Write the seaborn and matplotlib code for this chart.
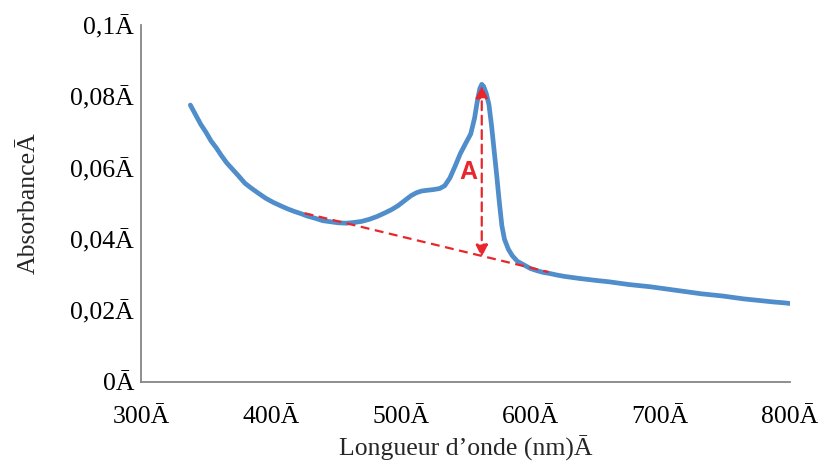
import matplotlib
matplotlib.use("Agg")
import matplotlib.pyplot as plt
import seaborn as sns
import pandas as pd

# Spectre d'absorbance
longueur_onde = [338, 342, 346, 350, 354, 358, 362, 366, 370, 375,
                 380, 385, 390, 396, 402, 408, 413, 418, 423, 428,
                 434, 440, 446, 452, 458, 464, 470, 476, 482, 488,
                 493, 498, 503, 508, 512, 516, 520, 525, 530, 534,
                 538, 542, 546, 550, 554, 557, 559, 561, 562.5, 564,
                 566, 568, 570, 572, 574, 576, 578, 580, 583, 586,
                 590, 595, 600, 605, 610, 615, 620, 626, 632, 638,
                 645, 652, 660, 668, 676, 684, 692, 700, 708, 716,
                 724, 732, 740, 748, 756, 764, 772, 780, 788, 795,
                 800]
absorbance = [0.0776, 0.0749, 0.0722, 0.0700, 0.0675, 0.0656, 0.0634, 0.0614, 0.0598, 0.0578,
              0.0557, 0.0543, 0.0530, 0.0515, 0.0503, 0.0493, 0.0485, 0.0478, 0.0472, 0.0465,
              0.0459, 0.0452, 0.0449, 0.0446, 0.0445, 0.0447, 0.0450, 0.0456, 0.0464, 0.0474,
              0.0483, 0.0494, 0.0508, 0.0522, 0.0530, 0.0535, 0.0537, 0.0539, 0.0542, 0.0550,
              0.0572, 0.0605, 0.0640, 0.0668, 0.0695, 0.0740, 0.0785, 0.0822, 0.0834, 0.0828,
              0.0808, 0.0778, 0.0720, 0.0650, 0.0580, 0.0505, 0.0438, 0.0400, 0.0372, 0.0354,
              0.0338, 0.0328, 0.0318, 0.0312, 0.0307, 0.0304, 0.0300, 0.0296, 0.0293, 0.0290,
              0.0287, 0.0284, 0.0281, 0.0277, 0.0273, 0.0270, 0.0267, 0.0263, 0.0259, 0.0255,
              0.0251, 0.0247, 0.0244, 0.0241, 0.0237, 0.0233, 0.0230, 0.0227, 0.0224, 0.0222,
              0.0220]

# Ligne de base et flèche de l'absorbance A
base_x = [426, 614]
base_y = [0.0473, 0.0308]
pic_x = 562.5
pic_haut = 0.0830
pic_bas = 0.0350

x_ticks = [300, 400, 500, 600, 700, 800]
x_labels = ["300Ā", "400Ā", "500Ā", "600Ā", "700Ā", "800Ā"]
y_ticks = [0, 0.02, 0.04, 0.06, 0.08, 0.1]
y_labels = ["0Ā", "0,02Ā", "0,04Ā", "0,06Ā", "0,08Ā", "0,1Ā"]

sns.set_style("white")
plt.rcParams["font.family"] = ["Liberation Serif", "DejaVu Serif"]

df = pd.DataFrame({"lambda": longueur_onde, "abs": absorbance})

fig = plt.figure(figsize=(8.36, 4.65), dpi=100)
ax = fig.add_axes([0.1687, 0.1785, 0.7763, 0.7675])

sns.lineplot(data=df, x="lambda", y="abs", ax=ax, color="#4F8DCB", linewidth=3.4)

rouge = "#E8262B"
ax.plot(base_x, base_y, color=rouge, linestyle=(0, (4, 2.5)), linewidth=1.6)
ax.annotate("", xy=(pic_x, pic_haut), xytext=(pic_x, pic_bas),
            arrowprops=dict(arrowstyle="<|-|>", color=rouge, linestyle=(0, (4, 2.5)),
                            linewidth=1.6, mutation_scale=18, shrinkA=0, shrinkB=0))
ax.text(552, 0.0588, "A", color=rouge, fontsize=18, fontweight="bold",
        family="Liberation Sans", ha="center", va="center")

ax.set_xlim(300, 800)
ax.set_ylim(0, 0.1)
ax.set_xticks(x_ticks)
ax.set_xticklabels(x_labels)
ax.set_yticks(y_ticks)
ax.set_yticklabels(y_labels)
ax.tick_params(axis="both", labelsize=18.5, colors="#868686", length=6, width=1.3,
               direction="out", labelcolor="black")
ax.tick_params(axis="x", pad=11)
ax.tick_params(axis="y", length=4, pad=1)

for s in ["top", "right"]:
    ax.spines[s].set_visible(False)
for s in ["left", "bottom"]:
    ax.spines[s].set_color("#868686")
    ax.spines[s].set_linewidth(1.3)

ax.set_xlabel("Longueur d’onde (nm)Ā", fontsize=18.5, labelpad=6)
ax.set_ylabel("AbsorbanceĀ", fontsize=18.5, labelpad=22)

fig.savefig("out.png", dpi=100)
